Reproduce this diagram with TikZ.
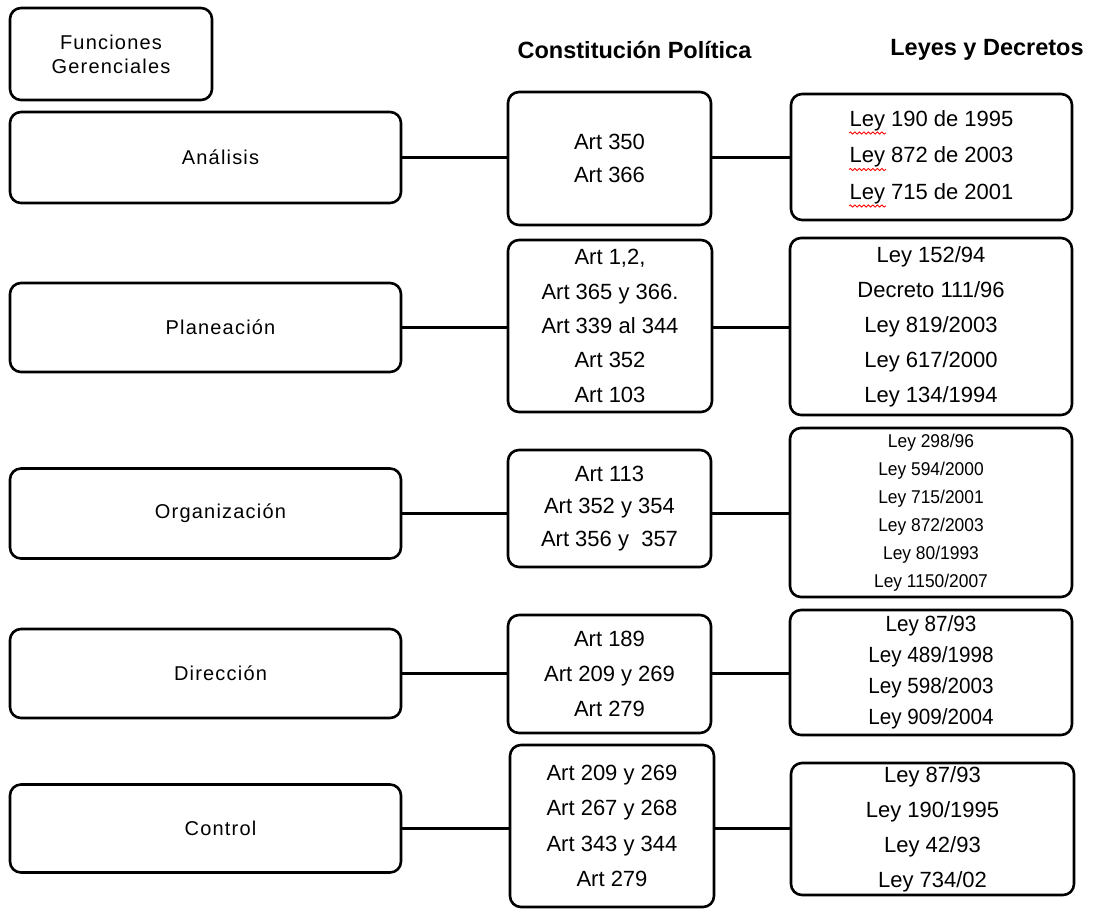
\documentclass[tikz,border=0pt]{standalone}
\usepackage{fontspec}
\setmainfont{Liberation Sans}
\newfontfamily\condfont{Liberation Sans}[FakeStretch=0.94]
\newfontfamily\widefont{Liberation Sans}[LetterSpace=6]
\usetikzlibrary{decorations.pathmorphing}
\begin{document}
\begin{tikzpicture}[x=1pt,y=-1pt,
  box/.style={draw=black, line width=2.6pt, rounded corners=11pt, inner sep=0pt, align=center, fill=white},
  leftbox/.style={box, minimum width=391pt, font=\widefont\fontsize{20}{24}\selectfont},
  midbox/.style={box, minimum width=203pt},
  rightbox/.style={box, minimum width=282pt},
  conn/.style={draw=black, line width=2.6pt},
  squig/.style={draw=red, line width=0.8pt, decorate, decoration={snake, amplitude=1.1pt, segment length=4.5pt}},
  head/.style={font=\bfseries\fontsize{23.5}{26}\selectfont, inner sep=0pt}]
\useasboundingbox (0,0) rectangle (1095,910);

% title box and headers
\node[box, minimum width=202pt, minimum height=92pt, font=\widefont\fontsize{20}{24}\selectfont] (fg) at (111,54) {Funciones\\Gerenciales};
\node[head] (hc) at (634.5,50) {Constitución Política};
\node[head] (hl) at (987,50) {Leyes y Decretos};

% left column
\node[leftbox, minimum height=91pt] (ana) at (205.5,157.5) {\hspace*{30pt}Análisis};
\node[leftbox, minimum height=89pt] (pla) at (205.5,327.5) {\hspace*{30pt}Planeación};
\node[leftbox, minimum height=90pt] (org) at (205.5,513.5) {\hspace*{30pt}Organización};
\node[leftbox, minimum height=89pt] (dir) at (205.5,673.5) {\hspace*{30pt}Dirección};
\node[leftbox, minimum height=88pt] (con) at (205.5,828.5) {\hspace*{30pt}Control};

% middle column
\node[midbox, minimum height=133pt, font=\fontsize{22}{32.5}\selectfont] (anam) at (609.5,158.5) {Art 350\\Art 366};
\node[midbox, minimum width=204pt, minimum height=172pt, font=\fontsize{22}{34.4}\selectfont] (plam) at (610,326) {Art 1,2,\\Art 365 y 366.\\Art 339 al 344\\Art 352\\Art 103};
\node[midbox, minimum height=117pt, font=\fontsize{22}{32.5}\selectfont] (orgm) at (609.5,508.5) {\raisebox{-5pt}{\parbox{190pt}{\centering Art 113\\Art 352 y 354\\Art 356 y\ \ 357}}};
\node[midbox, minimum height=118pt, font=\fontsize{22}{35}\selectfont] (dirm) at (609.5,674) {Art 189\\Art 209 y 269\\Art 279};
\node[midbox, minimum width=204pt, minimum height=162pt, font=\fontsize{22}{35.3}\selectfont] (conm) at (612,826) {Art 209 y 269\\Art 267 y 268\\Art 343 y 344\\Art 279};

% right column
\node[rightbox, minimum width=281pt, minimum height=126pt, font=\fontsize{22}{36.5}\selectfont] (anar) at (931.5,157) {Ley 190 de 1995\\Ley 872 de 2003\\Ley 715 de 2001};
\node[rightbox, minimum height=177pt, font=\fontsize{22}{35}\selectfont] (plar) at (931,326.5) {Ley 152/94\\Decreto 111/96\\Ley 819/2003\\Ley 617/2000\\Ley 134/1994};
\node[rightbox, minimum height=169pt, font=\condfont\fontsize{18.5}{28}\selectfont] (orgr) at (931,512.5) {Ley 298/96\\Ley 594/2000\\Ley 715/2001\\Ley 872/2003\\Ley 80/1993\\Ley 1150/2007};
\node[rightbox, minimum height=125pt, font=\condfont\fontsize{22}{30.8}\selectfont] (dirr) at (931,672.5) {Ley 87/93\\Ley 489/1998\\Ley 598/2003\\Ley 909/2004};
\node[rightbox, minimum width=283pt, minimum height=132pt, font=\fontsize{22}{35}\selectfont] (conr) at (932.5,829) {Ley 87/93\\Ley 190/1995\\Ley 42/93\\Ley 734/02};

% spell-check squiggles under "Ley"
\coordinate (s1) at (849,133);
\coordinate (s2) at (849,169.5);
\coordinate (s3) at (849,206);
\foreach \s in {s1,s2,s3}{
  \draw[squig] (\s) -- ++(37,0);
}

% connectors
\foreach \l/\m/\r in {ana/anam/anar, pla/plam/plar, org/orgm/orgr, dir/dirm/dirr, con/conm/conr}{
  \draw[conn] (\l.east) -- (\l.east -| \m.west);
  \draw[conn] (\l.east -| \m.east) -- (\l.east -| \r.west);
}
\end{tikzpicture}
\end{document}
